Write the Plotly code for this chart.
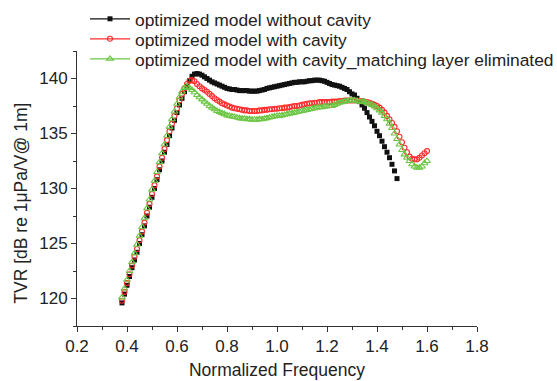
import numpy as np
import plotly.graph_objects as go

# frequency grids (sampling step 0.01)
freq_black = np.round(np.arange(0.38, 1.4801, 0.01), 2)
freq_red = np.round(np.arange(0.38, 1.6001, 0.01), 2)
freq_green = np.round(np.arange(0.38, 1.6001, 0.01), 2)

tvr_black = [
    119.6, 120.4, 121.2, 122.0, 122.8, 123.5, 124.2, 125.0, 125.8, 126.6,
    127.5, 128.3, 129.2, 130.0, 130.8, 131.7, 132.5, 133.3, 134.0, 134.8,
    135.5, 136.2, 136.9, 137.6, 138.2, 138.8, 139.3, 139.8, 140.2, 140.4,
    140.45, 140.4, 140.3, 140.15, 140.0, 139.85, 139.7, 139.6, 139.5, 139.4,
    139.3, 139.2, 139.1, 139.05, 139.0, 139.0, 138.95, 138.9, 138.9, 138.9,
    138.9, 138.85, 138.85, 138.85, 138.85, 138.9, 138.95, 139.0, 139.1, 139.15,
    139.2, 139.25, 139.3, 139.35, 139.4, 139.45, 139.5, 139.55, 139.6, 139.65,
    139.65, 139.7, 139.7, 139.7, 139.75, 139.8, 139.8, 139.85, 139.85, 139.85,
    139.8, 139.75, 139.65, 139.55, 139.45, 139.4, 139.35, 139.3, 139.2, 139.1,
    139.0, 138.8, 138.6, 138.5, 138.2, 137.9, 137.6, 137.3, 136.9, 136.5,
    136.1, 135.7, 135.2, 134.8, 134.3, 133.8, 133.3, 132.8, 132.2, 131.6,
    130.9,
]

tvr_red = [
    119.8, 120.6, 121.4, 122.2, 123.0, 123.8, 124.5, 125.3, 126.1, 126.9,
    127.8, 128.6, 129.5, 130.3, 131.1, 132.0, 132.8, 133.6, 134.4, 135.2,
    135.9, 136.6, 137.3, 138.0, 138.6, 139.1, 139.5, 139.8, 139.85, 139.75,
    139.5, 139.3, 139.1, 138.95, 138.8, 138.6, 138.4, 138.2, 138.05, 137.9,
    137.75, 137.65, 137.55, 137.45, 137.35, 137.3, 137.25, 137.2, 137.15, 137.1,
    137.1, 137.05, 137.05, 137.05, 137.05, 137.1, 137.1, 137.15, 137.15, 137.2,
    137.2, 137.25, 137.25, 137.3, 137.3, 137.35, 137.35, 137.4, 137.45, 137.5,
    137.5, 137.55, 137.6, 137.65, 137.7, 137.75, 137.75, 137.8, 137.8, 137.85,
    137.85, 137.85, 137.85, 137.85, 137.9, 137.9, 137.9, 137.95, 137.95, 138.0,
    138.0, 138.0, 138.0, 138.0, 138.0, 137.95, 137.95, 137.9, 137.85, 137.8,
    137.7, 137.6, 137.5, 137.35, 137.15, 136.9, 136.6, 136.3, 135.95, 135.6,
    135.2, 134.7, 134.2, 133.7, 133.3, 132.9, 132.7, 132.65, 132.65, 132.8,
    133.0, 133.2, 133.4,
]

tvr_green = [
    120.1, 120.9, 121.7, 122.5, 123.3, 124.1, 124.9, 125.7, 126.5, 127.3,
    128.2, 129.0, 129.9, 130.7, 131.5, 132.4, 133.2, 134.0, 134.8, 135.6,
    136.3, 137.0, 137.7, 138.3, 138.8, 139.15, 139.25, 139.15, 138.95, 138.75,
    138.5, 138.3, 138.1, 137.9, 137.7, 137.5, 137.35, 137.2, 137.05, 136.95,
    136.85, 136.75, 136.65, 136.6, 136.55, 136.5, 136.45, 136.4, 136.35, 136.35,
    136.3, 136.3, 136.25, 136.25, 136.25, 136.3, 136.3, 136.35, 136.4, 136.45,
    136.5, 136.55, 136.6, 136.6, 136.65, 136.7, 136.75, 136.8, 136.85, 136.9,
    136.95, 137.0, 137.05, 137.1, 137.15, 137.2, 137.25, 137.3, 137.35, 137.4,
    137.4, 137.45, 137.45, 137.5, 137.5, 137.6, 137.7, 137.8, 137.85, 137.9,
    137.95, 138.0, 138.0, 138.0, 137.95, 137.9, 137.9, 137.85, 137.8, 137.7,
    137.6, 137.45, 137.3, 137.1, 136.9, 136.6, 136.3, 135.9, 135.5, 135.0,
    134.5, 134.0, 133.5, 133.1, 132.8, 132.5, 132.2, 132.0, 131.9, 131.9,
    132.0, 132.3, 132.5,
]

names = [
    "optimized model without cavity",
    "optimized model with cavity",
    "optimized model with cavity_matching layer eliminated",
]
x_ticks = [0.2, 0.4, 0.6, 0.8, 1.0, 1.2, 1.4, 1.6, 1.8]
x_ticklabels = ["0.2", "0.4", "0.6", "0.8", "1.0", "1.2", "1.4", "1.6", "1.8"]
y_ticks = [120, 125, 130, 135, 140]

BLACK = "#111111"
RED = "#ff2a2a"
GREEN = "#6cc644"
FONT = "Liberation Sans, Arial, sans-serif"
AXC = "#333333"
TXT = "#222222"

styles = [
    dict(symbol="square", size=5, color=BLACK, line=dict(width=0)),
    dict(symbol="circle-open", size=5, color=RED, line=dict(width=1.1)),
    dict(symbol="triangle-up-open", size=6, color=GREEN, line=dict(width=1.1)),
]
line_colors = [BLACK, RED, GREEN]
legend_ids = ["legend", "legend2", "legend3"]
legend_rows_y = [1.1164, 1.0436, 0.9709]

fig = go.Figure()
for xs, ys, st in zip([freq_black, freq_red, freq_green], [tvr_black, tvr_red, tvr_green], styles):
    fig.add_trace(go.Scatter(x=xs, y=ys, mode="markers", marker=st, showlegend=False,
                             cliponaxis=False))

# legend entries (line + marker), one legend per row for exact spacing
for nm, st, lc, lid in zip(names, styles, line_colors, legend_ids):
    fig.add_trace(go.Scatter(x=[None], y=[None], mode="lines+markers", name=nm,
                             marker=st, line=dict(color=lc, width=1.2), legend=lid))

legend_common = dict(x=0.02, xanchor="left", yanchor="middle",
                     xref="paper", yref="paper",
                     bgcolor="rgba(0,0,0,0)", borderwidth=0,
                     font=dict(size=17.4, color=TXT, family=FONT), itemwidth=40)

fig.update_layout(
    width=557, height=381,
    margin=dict(l=77, r=80, t=51, b=55, autoexpand=False),
    paper_bgcolor="white", plot_bgcolor="white",
    font=dict(family=FONT, size=17, color=TXT),
    legend=dict(y=legend_rows_y[0], **legend_common),
    legend2=dict(y=legend_rows_y[1], **legend_common),
    legend3=dict(y=legend_rows_y[2], **legend_common),
    showlegend=True,
)
fig.update_xaxes(
    range=[0.2, 1.8], showgrid=False, zeroline=False,
    showline=True, linecolor=AXC, linewidth=1,
    ticks="outside", ticklen=5, tickcolor=AXC, tickwidth=1,
    tickvals=x_ticks, ticktext=x_ticklabels,
    minor=dict(ticks="outside", ticklen=3, dtick=0.1, tick0=0.2, tickcolor=AXC, showgrid=False),
    title=dict(text="Normalized Frequency", font=dict(size=17.5), standoff=8),
    tickfont=dict(size=17),
)
fig.update_yaxes(
    range=[117.5, 142.5], showgrid=False, zeroline=False,
    showline=True, linecolor=AXC, linewidth=1,
    ticks="outside", ticklen=5, tickcolor=AXC, tickwidth=1,
    tickvals=y_ticks,
    minor=dict(ticks="outside", ticklen=3, dtick=2.5, tick0=117.5, tickcolor=AXC, showgrid=False),
    tickfont=dict(size=17),
)
fig.add_annotation(text="TVR [dB re 1μPa/V@ 1m]", textangle=-90,
                   xref="paper", yref="paper", x=-0.14, y=0.445,
                   xanchor="center", yanchor="middle", showarrow=False,
                   font=dict(size=17.5, color=TXT, family=FONT))

fig.write_html("out.html")
